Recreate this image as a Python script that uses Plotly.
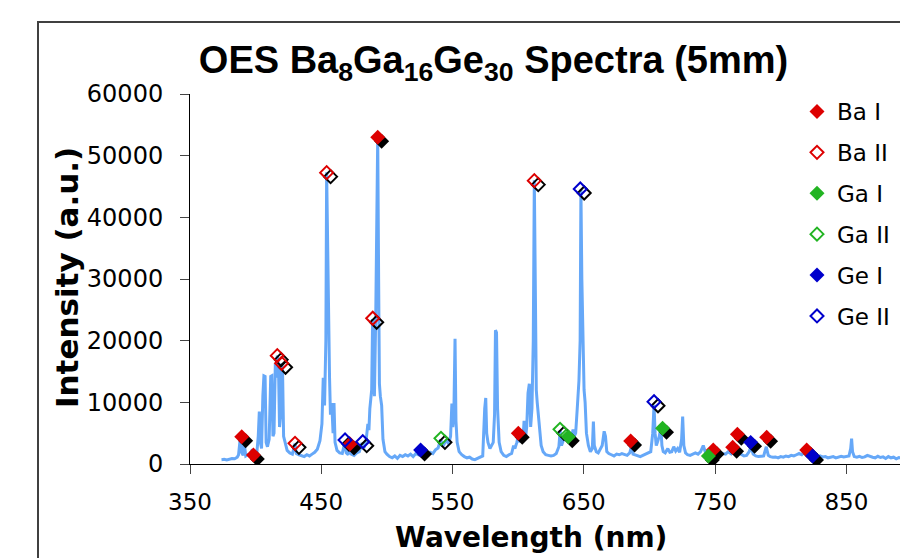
import plotly.graph_objects as go

# ---- spectrum (wavelength nm, intensity a.u.) ----
wl = [374, 376, 378, 380, 382, 384, 386, 387, 388, 388.8, 389.5, 390.5, 391.5, 392.5, 394, 396, 397.5, 398.3, 399.5,
      401, 402, 402.8, 403.6, 404.5, 405.5, 406.3, 407.2, 408, 409, 410.3, 411.5, 412.3, 413.2, 414, 415, 415.8,
      416.5, 417.4, 418.2, 419, 419.8, 420.5, 421.3, 422.5, 424, 426, 428, 430, 431, 433, 435, 437, 439, 441, 443,
      445, 447, 449, 450.5, 451.5, 452.5, 453.5, 454.1, 454.8, 455.5, 456.3, 457, 458, 459, 459.7, 460.5, 462, 464,
      466, 468, 469, 470.5, 471.9, 473, 475, 477, 479, 481, 482.5, 484, 485.5, 486.3, 487, 487.8, 488.4, 489.1,
      489.8, 490.5, 491.5, 492.2, 493, 493.7, 494.3, 495, 496, 497, 498.5, 500, 502, 504, 506, 508, 510, 512, 514,
      516, 518, 520, 522, 524, 525.7, 527, 529, 531, 533, 535, 537, 539, 541, 542.5, 544, 545.5, 547, 548.5, 549.5,
      550.2, 551, 551.9, 552.6, 553.5, 555, 557, 559, 561, 563, 565, 567, 569, 571, 573, 574.5, 575.3, 576, 577,
      578.5, 580, 581, 582, 582.7, 583.5, 584.3, 585.5, 587, 589, 591, 593, 595, 596.5, 597.5, 599, 600.3, 601.5,
      602.5, 603.5, 604.5, 605.5, 606.5, 607.5, 608.5, 609.5, 610.5, 611.5, 612.3, 613, 613.8, 614.5, 615.5, 616.5,
      617.5, 619, 621, 623, 625, 627, 629, 631, 632, 633, 634.5, 636, 637.5, 639, 640.5, 641.8, 642.7, 643.8, 645,
      646.3, 647.2, 647.8, 648.5, 649.3, 650.2, 651, 652, 653.5, 655, 656.5, 657.3, 658, 659.5, 661, 662.5, 664,
      665.5, 666.5, 667.5, 669, 671, 673, 675, 677, 679, 681, 683, 685, 686.5, 687.5, 689, 691, 693, 695, 697, 699,
      701, 702.5, 703.5, 704.3, 705.2, 706, 707.5, 708.7, 709.5, 710.5, 712, 714, 715.5, 717, 718.5, 720, 721.5,
      723, 724.5, 725.3, 726.2, 727.5, 729, 731, 733, 735, 737, 739, 741, 742.5, 744, 746, 748, 750, 752, 754, 756,
      758, 760, 762, 763.4, 765, 766.5, 768, 770, 772, 774, 776, 777.3, 779, 781, 783, 785, 787, 789, 790.5, 792,
      794, 796, 798, 800, 802, 804, 806, 808, 810, 812, 814, 816, 818, 820, 822, 824, 826, 828, 830, 832, 834, 836,
      838, 840, 842, 844, 846, 848, 850, 852, 853.3, 854, 854.7, 856, 858, 860, 862, 864, 866, 868, 870, 872, 874,
      876, 878, 880, 882, 884, 886, 888, 890, 892, 894]
intensity = [700, 750, 650, 800, 900, 850, 1100, 1500, 3600, 4000, 1800, 1400, 3000, 1300, 1500, 1600, 2400, 1500, 1700,
             2000, 4500, 8500, 3500, 2500, 11000, 14300, 14200, 3500, 2800, 4000, 14200, 14300, 4500, 5000, 16300, 14000,
             17600, 15800, 6000, 8000, 16300, 15200, 4500, 3200, 2200, 1800, 1600, 3300, 1700, 1500, 1400, 1200, 1500, 1300, 1600,
             1900, 2400, 3800, 6500, 14000, 9500, 20000, 47300, 30000, 26000, 14000, 8000, 9900, 5000, 9900, 3500, 2200, 1800,
             1700, 3600, 1800, 1500, 3200, 1600, 1400, 1800, 2000, 3400, 2600, 3500, 6500, 5500, 9000, 11000, 12000, 23500,
             14000, 11000, 24000, 40000, 53000, 30000, 13000, 11000, 9500, 4000, 2000, 1600, 1200, 1000, 1300, 900, 1400, 1200, 1500,
             1300, 1600, 1200, 1700, 1500, 2300, 1600, 1300, 1500, 1900, 1700, 2300, 2600, 4000, 2800, 3500, 4000, 3200, 4500, 9800,
             6000, 8000, 20300, 7000, 3500, 2000, 1500, 1200, 1000, 1100, 800, 700, 900, 1000, 1300, 9000, 10700, 5000, 3500,
             2500, 3000, 3500, 8000, 21700, 21300, 9000, 3500, 2000, 1400, 1200, 1500, 1700, 3000, 2500, 3500, 4800, 3500,
             5500, 3500, 7000, 4000, 6000, 11500, 13000, 6000, 9000, 20000, 46000, 30000, 12000, 10000, 8000, 5500,
             3000, 2000, 1500, 1400, 1300, 1400, 1700, 2800, 5400, 3000, 3800, 4800, 4200, 3500, 4000, 5600, 4500, 5000, 9000,
             13500, 20000, 44500, 30000, 22000, 12000, 10000, 5000, 3000, 2000, 2500, 6900, 3000, 2000, 1800, 2500, 3000,
             5300, 4500, 2000, 1700, 1500, 1300, 1600, 1500, 1700, 1600, 1400, 1800, 3000, 1600, 1500, 1300, 1200, 1400, 1600, 1800,
             2000, 5000, 9600, 5000, 3000, 3500, 4500, 6000, 3000, 2000, 1800, 2500, 1900, 2000, 2800, 2100, 2500,
             1900, 4000, 7700, 3000, 1800, 1500, 1400, 1600, 1800, 1600, 2000, 3000, 2000, 1600, 1500, 1800, 1400, 1300, 1500, 1700,
             1600, 2000, 1700, 2700, 2000, 2700, 1800, 1500, 1300, 1400, 2000, 2900, 1600, 1300, 1200, 1250, 1300, 2800, 1400, 1200,
             1100, 1150, 1000, 1200, 1100, 1300, 1200, 1400, 1300, 1500, 1700, 1500, 2000, 1600, 1800, 1300, 1200, 1100, 1300, 1150, 1200, 1000,
             1100, 1200, 1000, 1100, 1250, 1150, 1200, 1300, 2500, 4100, 2000, 1200, 1100, 1250, 1050, 1150, 1400, 1200, 1100, 1000, 1250,
             1050, 1150, 900, 1200, 1000, 1100, 850, 1050, 950, 1000]

# ---- identified emission lines (wavelength nm, intensity) ----
ba1_wl = [389.4, 398.3, 471.9, 493.0, 600.1, 685.7, 748.6, 763.4, 767.0, 789.3, 819.8]
ba1_int = [4430, 1460, 3240, 53000, 4980, 3730, 2270, 2700, 4810, 4330, 2270]
ba2_wl = [416.5, 419.8, 430.0, 454.1, 489.2, 612.3]
ba2_int = [17570, 16330, 3350, 47250, 23630, 45950]
ga1_wl = [638.2, 710.0, 744.9]
ga1_int = [4430, 5790, 1300]
ga2_wl = [541.2, 631.9]
ga2_int = [4160, 5620]
ge1_wl = [525.7, 777.1, 824.3]
ge1_int = [2270, 3510, 1300]
ge2_wl = [468.1, 481.6, 647.3, 703.5]
ge2_int = [3890, 3620, 44600, 10100]

x_ticks = [350, 450, 550, 650, 750, 850]
y_ticks = [0, 10000, 20000, 30000, 40000, 50000, 60000]
y_tick_text = ["0", "10000", "20000", "30000", "40000", "50000", "60000"]

RED, GREEN, BLUE = "#DD0000", "#22B422", "#0000CC"
series = [
    ("Ba I", ba1_wl, ba1_int, RED, True),
    ("Ba II", ba2_wl, ba2_int, RED, False),
    ("Ga I", ga1_wl, ga1_int, GREEN, True),
    ("Ga II", ga2_wl, ga2_int, GREEN, False),
    ("Ge I", ge1_wl, ge1_int, BLUE, True),
    ("Ge II", ge2_wl, ge2_int, BLUE, False),
]

fig = go.Figure()
fig.add_trace(go.Scatter(x=wl, y=intensity, mode="lines", line=dict(color="#66A8F8", width=3),
                         showlegend=False, hoverinfo="skip"))

# drop shadows (offset a few pixels right/down)
SHX, SHY = 3.0, -650
FS, OS = 11.5, 10
for name, xs, ys, col, filled in series:
    fig.add_trace(go.Scatter(
        x=[v + SHX for v in xs], y=[v + SHY for v in ys], mode="markers", showlegend=False, hoverinfo="skip",
        marker=dict(symbol="diamond" if filled else "diamond-open", size=FS if filled else OS, color="black",
                    line=dict(width=0 if filled else 2, color="black"))))

for name, xs, ys, col, filled in series:
    fig.add_trace(go.Scatter(
        x=xs, y=ys, mode="markers", name=name, legendgroup=name,
        marker=dict(symbol="diamond" if filled else "diamond-open", size=FS if filled else OS, color=col,
                    line=dict(width=0 if filled else 2, color=col))))

L, T, W, H = 190, 94, 710, 370
fig.update_layout(
    width=900, height=558,
    margin=dict(l=L, r=900 - L - W, t=T, b=558 - T - H),
    paper_bgcolor="white", plot_bgcolor="white",
    font=dict(family="DejaVu Sans", color="black"),
    title=dict(text="<b>OES Ba<sub>8</sub>Ga<sub>16</sub>Ge<sub>30</sub> Spectra (5mm)</b>",
               x=493.5 / 900, xanchor="center", y=1 - 60 / 558, yanchor="middle",
               font=dict(family="Liberation Sans", size=38, color="black")),
    legend=dict(x=(797 - L) / W, xanchor="left", y=(464 - 90) / H, yanchor="top",
                bgcolor="rgba(0,0,0,0)", font=dict(family="DejaVu Sans", size=23, color="black"),
                tracegroupgap=8, itemwidth=30),
    showlegend=True,
)
fig.update_xaxes(range=[350, 350 + W / 1.3127], tickvals=x_ticks, ticks="outside", ticklen=9,
                 showline=True, linecolor="black", linewidth=1, showgrid=False, zeroline=False,
                 tickfont=dict(size=23, family="DejaVu Sans"), ticklabelstandoff=8)
fig.update_yaxes(range=[0, 60000], tickvals=y_ticks, ticktext=y_tick_text, ticks="outside", ticklen=9,
                 showline=True, linecolor="black", linewidth=1, showgrid=False, zeroline=False,
                 tickfont=dict(size=24, family="DejaVu Sans"), ticklabelstandoff=12)

fig.add_annotation(text="<b>Wavelength (nm)</b>", xref="paper", yref="paper",
                   x=(531 - L) / W, y=(464 - 537) / H, xanchor="center", yanchor="middle",
                   showarrow=False, font=dict(family="DejaVu Sans", size=28, color="black"))
fig.add_annotation(text="<b>Intensity (a.u.)</b>", xref="paper", yref="paper", textangle=-90,
                   x=(67 - L) / W, y=(464 - 278) / H, xanchor="center", yanchor="middle",
                   showarrow=False, font=dict(family="DejaVu Sans", size=31, color="black"))

# chart-area border (left and top edges visible; rest beyond the window)
fig.add_shape(type="rect", xref="paper", yref="paper",
              x0=(38 - L) / W, y0=(464 - 620) / H, x1=(960 - L) / W, y1=(464 - 22) / H,
              line=dict(color="#404040", width=2), layer="below")

fig.write_html("out.html", config={"displayModeBar": False},
               post_script="document.body.style.margin='0px';")
